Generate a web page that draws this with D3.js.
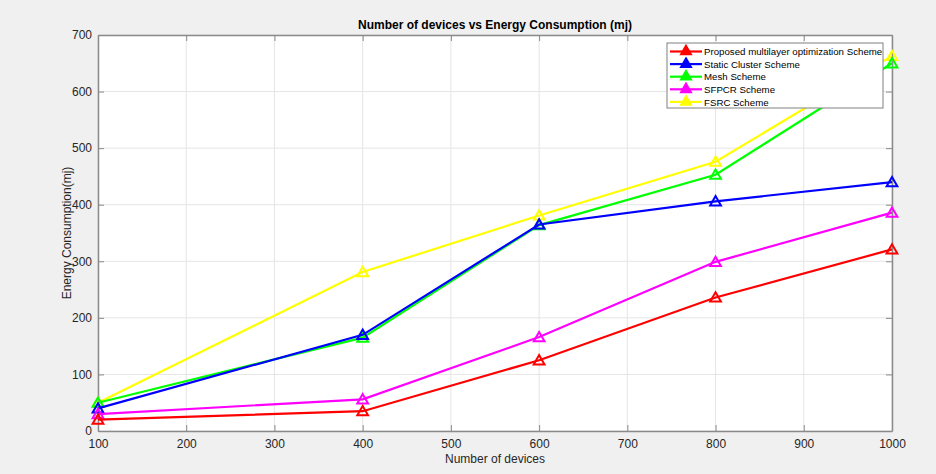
<!DOCTYPE html>
<html><head><meta charset="utf-8">
<script src="https://cdn.jsdelivr.net/npm/d3@7"></script>
<style>
html,body{margin:0;padding:0;background:#f0f0f0;}
svg{display:block;font-family:"Liberation Sans",Arial,Helvetica,sans-serif;}
</style></head>
<body>
<svg id="c" width="936" height="474"></svg>
<script>
const devices = [100, 400, 600, 800, 1000];
const seriesNames = ["Proposed multilayer optimization Scheme", "Static Cluster Scheme", "Mesh Scheme", "SFPCR Scheme", "FSRC Scheme"];
const seriesColors = ["#ff0000", "#0000ff", "#00ff00", "#ff00ff", "#ffff00"];
const proposed = [20, 35, 125, 236, 321];
const staticCluster = [40, 170, 365, 406, 440];
const mesh = [50, 165, 364, 453, 650];
const sfpcr = [30, 56, 166, 299, 386];
const fsrc = [50, 281, 381, 476, 663];
const xTicks = [100, 200, 300, 400, 500, 600, 700, 800, 900, 1000];
const yTicks = [0, 100, 200, 300, 400, 500, 600, 700];
const drawOrder = [4, 2, 1, 3, 0];

const allSeries = [proposed, staticCluster, mesh, sfpcr, fsrc];

const svg = d3.select("#c");
const L = 98, R = 892, T = 35, B = 431;
const x = d3.scaleLinear().domain([100, 1000]).range([L, R]);
const y = d3.scaleLinear().domain([0, 700]).range([B, T]);

// plot background
svg.append("rect").attr("x", L).attr("y", T).attr("width", R - L).attr("height", B - T).attr("fill", "#ffffff");

// grid
const g = svg.append("g");
g.selectAll(".gx").data(xTicks).enter().append("line")
  .attr("x1", d => x(d)).attr("x2", d => x(d)).attr("y1", T).attr("y2", B)
  .attr("stroke", "#e5e5e5").attr("stroke-width", 1);
g.selectAll(".gy").data(yTicks).enter().append("line")
  .attr("x1", L).attr("x2", R).attr("y1", d => y(d)).attr("y2", d => y(d))
  .attr("stroke", "#e5e5e5").attr("stroke-width", 1);

// axes
const axColor = "#262626";
const xAxis = d3.axisBottom(x).tickValues(xTicks).tickFormat(d3.format("d")).tickSizeInner(-6).tickSizeOuter(0).tickPadding(8);
const yAxis = d3.axisLeft(y).tickValues(yTicks).tickFormat(d3.format("d")).tickSizeInner(-6).tickSizeOuter(0).tickPadding(6);
const xTop = d3.axisTop(x).tickValues(xTicks).tickFormat("").tickSizeInner(-6).tickSizeOuter(0);
const yRight = d3.axisRight(y).tickValues(yTicks).tickFormat("").tickSizeInner(-6).tickSizeOuter(0);

function styleAxis(sel) {
  sel.select(".domain").attr("stroke", "#8a8a8a").attr("stroke-width", 1.5);
  sel.selectAll(".tick line").attr("stroke", "#8a8a8a").attr("stroke-width", 1);
  sel.selectAll(".tick text").attr("fill", axColor).style("font-size", "12px");
}
svg.append("g").attr("transform", `translate(0,${B})`).call(xAxis).call(styleAxis);
svg.append("g").attr("transform", `translate(${L},0)`).call(yAxis).call(styleAxis);
svg.append("g").attr("transform", `translate(0,${T})`).call(xTop).call(styleAxis);
svg.append("g").attr("transform", `translate(${R},0)`).call(yRight).call(styleAxis);

// lines
const line = d3.line().x((d, i) => x(devices[i])).y(d => y(d));
const tri = d3.symbol().type(d3.symbolTriangle).size(50);
const plot = svg.append("g");
drawOrder.forEach(si => {
  const data = allSeries[si];
  plot.append("path").datum(data).attr("d", line)
    .attr("fill", "none").attr("stroke", seriesColors[si]).attr("stroke-width", 2.2);
  plot.selectAll(null).data(data).enter().append("path")
    .attr("d", tri)
    .attr("transform", (d, i) => `translate(${x(devices[i])},${y(d) + 1})`)
    .attr("fill", "none").attr("stroke", seriesColors[si]).attr("stroke-width", 2);
});

// title and labels
svg.append("text").attr("x", (L + R) / 2).attr("y", 29).attr("text-anchor", "middle")
  .style("font-size", "12px").style("font-weight", "bold").attr("fill", "#000").text("Number of devices vs Energy Consumption (mj)");
svg.append("text").attr("x", (L + R) / 2).attr("y", 463).attr("text-anchor", "middle")
  .style("font-size", "12px").attr("fill", axColor).text("Number of devices");
svg.append("text").attr("transform", `translate(71,${(T + B) / 2}) rotate(-90)`).attr("text-anchor", "middle")
  .style("font-size", "12px").attr("fill", axColor).text("Energy Consumption(mj)");

// legend
const lg = svg.append("g");
lg.append("rect").attr("x", 667).attr("y", 43).attr("width", 216).attr("height", 65)
  .attr("fill", "#ffffff").attr("stroke", "#808080").attr("stroke-width", 1);
seriesNames.forEach((name, i) => {
  const yy = 51.5 + i * 12.6;
  lg.append("line").attr("x1", 670).attr("x2", 702).attr("y1", yy).attr("y2", yy)
    .attr("stroke", seriesColors[i]).attr("stroke-width", 2.2);
  lg.append("path").attr("d", tri).attr("transform", `translate(686,${yy})`)
    .attr("fill", seriesColors[i]).attr("stroke", seriesColors[i]).attr("stroke-width", 1.5);
  lg.append("text").attr("x", 704).attr("y", yy + 3.6).style("font-size", "9.7px").attr("fill", "#000").text(name);
});
</script>
</body></html>
